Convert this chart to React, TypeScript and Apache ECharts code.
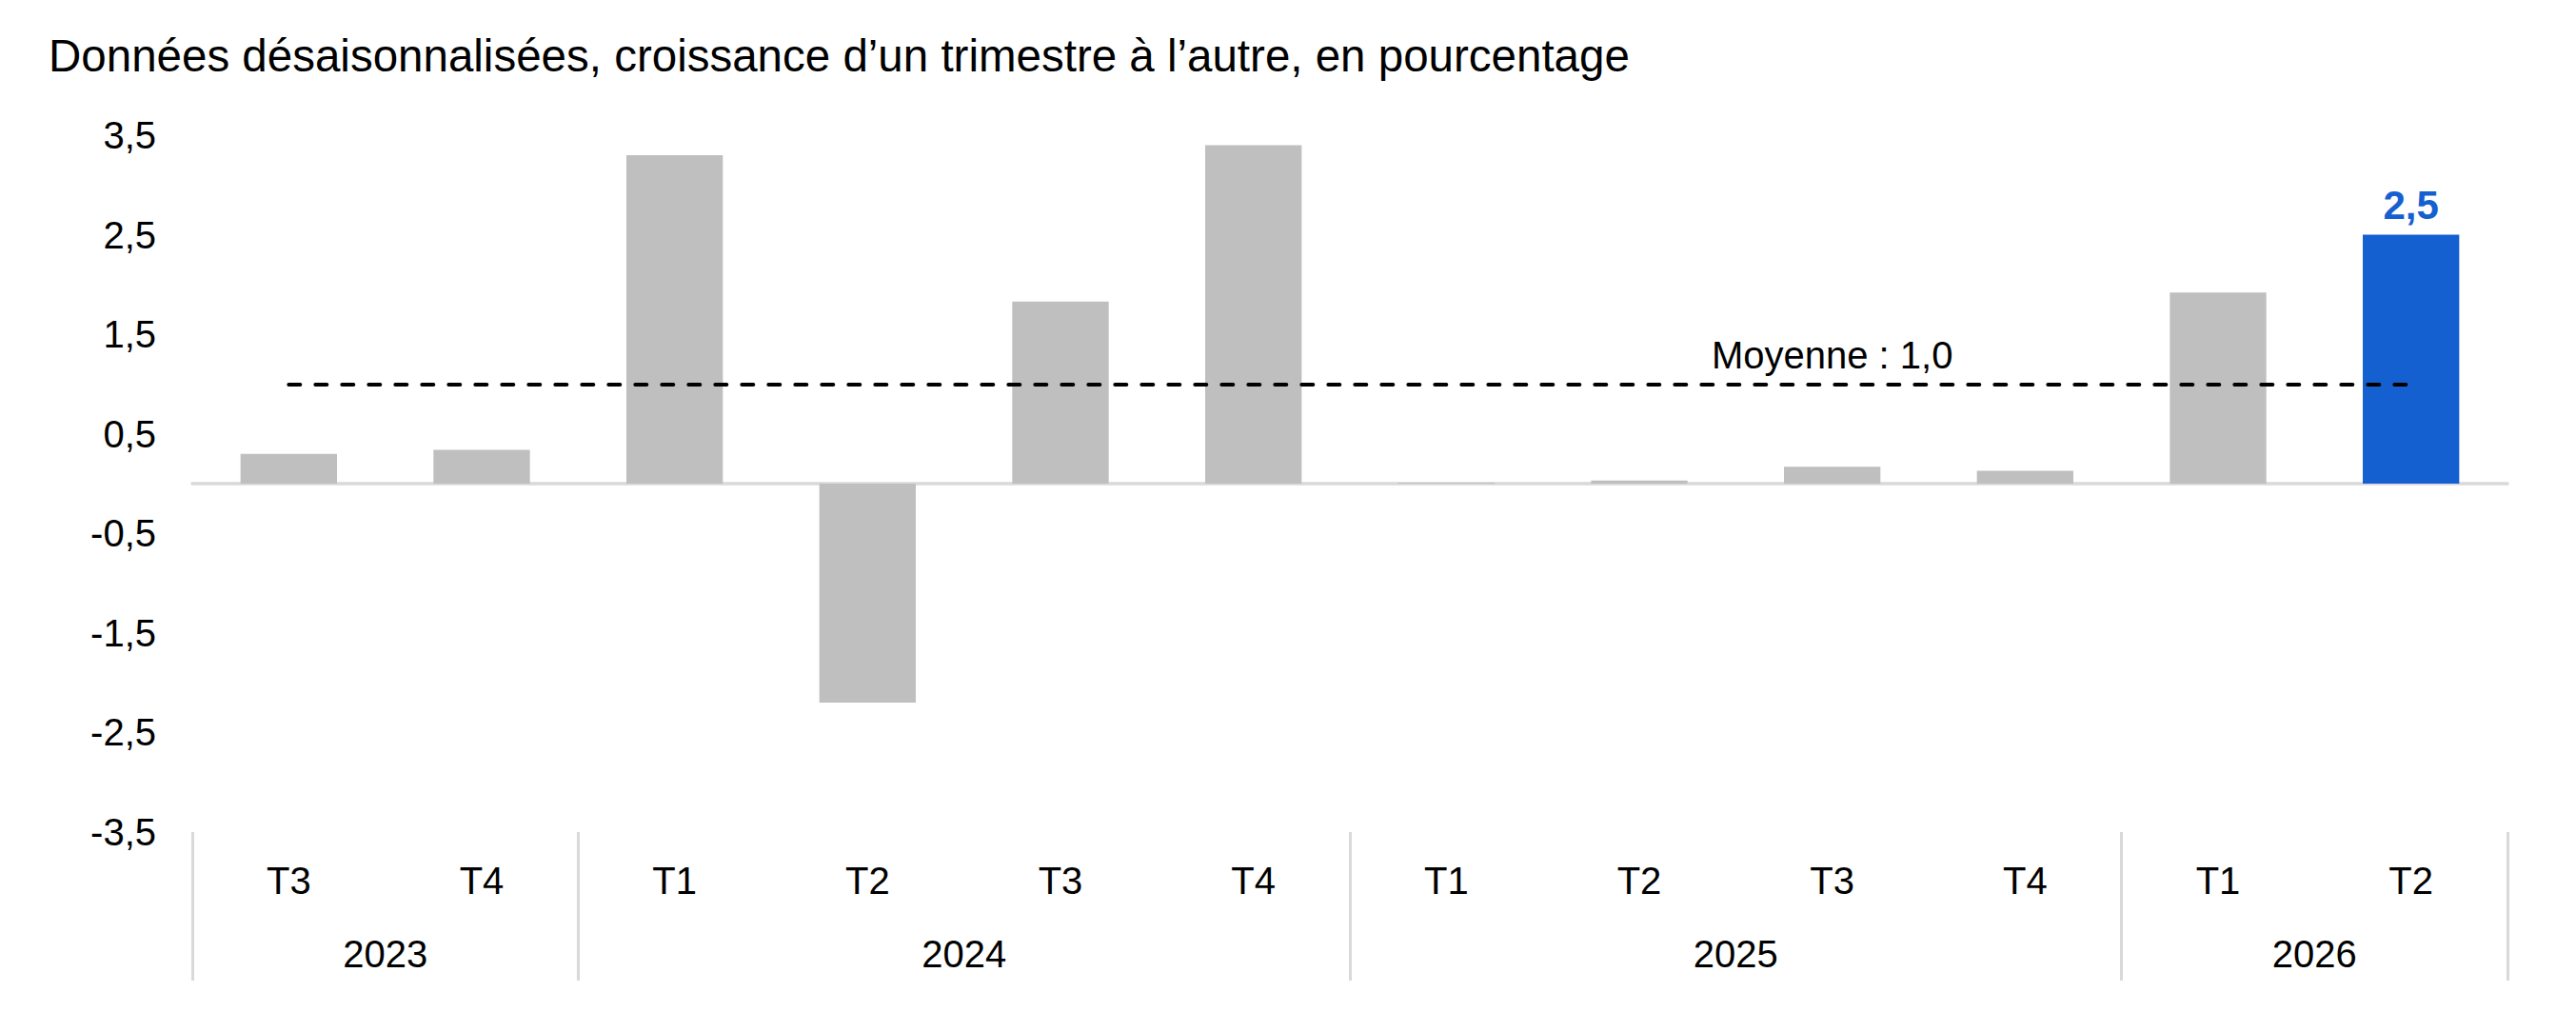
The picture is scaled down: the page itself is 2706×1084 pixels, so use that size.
import React, { useEffect, useRef } from "react";
import * as echarts from "echarts";

const TITLE = "Données désaisonnalisées, croissance d’un trimestre à l’autre, en pourcentage";
const CATEGORIES = ["T3", "T4", "T1", "T2", "T3", "T4", "T1", "T2", "T3", "T4", "T1", "T2"];
const YEARS = ["2023", "2024", "2025", "2026"];
const QUARTERS_PER_YEAR = [2, 4, 4, 2];
const VALUES = [0.3, 0.34, 3.3, -2.2, 1.83, 3.4, 0.01, 0.03, 0.17, 0.13, 1.92, 2.5];
const HIGHLIGHT_INDEX = 11;
const MEAN = 1.0;
const MEAN_LABEL = "Moyenne : 1,0";
const MEAN_LABEL_INDEX = 8;
const Y_MIN = -3.5;
const Y_MAX = 3.5;
const Y_STEP = 1;

const FONT = "'Liberation Sans', Arial, Helvetica, sans-serif";
const GRAY = "#bfbfbf";
const BLUE = "#1560d0";
const AXIS_GRAY = "#d9d9d9";

const fmt = (v: number) => v.toFixed(1).replace(".", ",");

export default function App() {
  const ref = useRef<HTMLDivElement>(null);

  useEffect(() => {
    if (!ref.current) return;
    const chart = echarts.init(ref.current, null, { renderer: "svg" });

    const boundaries: number[] = [0];
    const centers: number[] = [];
    QUARTERS_PER_YEAR.forEach((n) => {
      const start = boundaries[boundaries.length - 1];
      centers.push(start + n / 2);
      boundaries.push(start + n);
    });
    const total = boundaries[boundaries.length - 1];

    const barData = VALUES.map((v, i) =>
      i === HIGHLIGHT_INDEX
        ? {
            value: v,
            itemStyle: { color: BLUE },
            label: {
              show: true,
              position: "top",
              distance: 10,
              formatter: () => fmt(v),
              color: BLUE,
              fontSize: 42,
              fontWeight: "bold",
              fontFamily: FONT,
            },
          }
        : v
    );

    chart.setOption({
      animation: false,
      backgroundColor: "#ffffff",
      textStyle: { fontFamily: FONT },
      title: {
        text: TITLE,
        left: 46,
        top: 29,
        textStyle: { fontSize: 47.5, fontWeight: "normal", color: "#000", fontFamily: FONT },
      },
      grid: { left: 202, right: 72, top: 142, bottom: 210, containLabel: false },
      xAxis: [
        {
          type: "category",
          data: CATEGORIES,
          position: "bottom",
          axisLine: { show: true, onZero: true, lineStyle: { color: AXIS_GRAY, width: 3.5 } },
          axisTick: { show: false },
          axisLabel: { show: false },
          splitLine: { show: false },
          z: 1,
        },
        {
          type: "category",
          data: CATEGORIES,
          position: "bottom",
          axisLine: { show: false, onZero: false },
          axisTick: { show: false },
          axisLabel: {
            show: true,
            margin: 31,
            fontSize: 40,
            lineHeight: 40,
            color: "#000",
            fontFamily: FONT,
            interval: 0,
          },
          splitLine: { show: false },
        },
        {
          type: "value",
          min: 0,
          max: total,
          position: "bottom",
          axisLine: { show: false, onZero: false },
          axisTick: {
            show: true,
            customValues: boundaries,
            length: 156,
            inside: false,
            lineStyle: { color: AXIS_GRAY, width: 3 },
          },
          axisLabel: {
            show: true,
            customValues: centers,
            formatter: (v: number) => {
              const idx = centers.findIndex((c) => Math.abs(c - v) < 1e-6);
              return idx >= 0 ? YEARS[idx] : "";
            },
            margin: 108,
            fontSize: 40,
            lineHeight: 40,
            color: "#000",
            fontFamily: FONT,
          },
          splitLine: { show: false },
        },
      ],
      yAxis: {
        type: "value",
        min: Y_MIN,
        max: Y_MAX,
        interval: Y_STEP,
        axisLine: { show: false },
        axisTick: { show: false },
        splitLine: { show: false },
        axisLabel: {
          formatter: (v: number) => fmt(v),
          fontSize: 40,
          color: "#000",
          margin: 38,
          fontFamily: FONT,
        },
      },
      series: [
        {
          type: "bar",
          xAxisIndex: 0,
          yAxisIndex: 0,
          data: barData,
          barCategoryGap: "50%",
          itemStyle: { color: GRAY },
          z: 2,
          markLine: {
            silent: true,
            symbol: ["none", "none"],
            label: { show: false },
            lineStyle: { color: "#000", type: [12, 16], width: 4, cap: "round" },
            data: [[{ coord: [0, MEAN] }, { coord: [CATEGORIES.length - 1, MEAN] }]],
            z: 5,
          },
          markPoint: {
            silent: true,
            symbol: "rect",
            symbolSize: 0,
            data: [{ coord: [MEAN_LABEL_INDEX, MEAN] }],
            label: {
              show: true,
              position: "inside",
              offset: [0, -30],
              formatter: () => MEAN_LABEL,
              fontSize: 40,
              color: "#000",
              fontFamily: FONT,
            },
          },
        },
      ],
    });

    return () => chart.dispose();
  }, []);

  return (
    <div
      ref={ref}
      style={{ position: "fixed", left: 0, top: 0, width: 2706, height: 1084, background: "#fff" }}
    />
  );
}
